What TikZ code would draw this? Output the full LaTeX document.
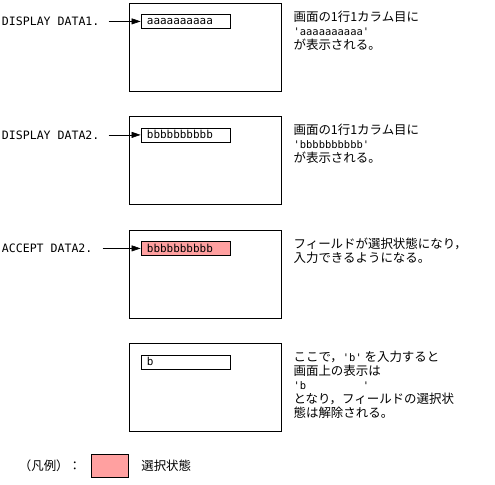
\documentclass[tikz,border=0pt]{standalone}
\usepackage{fontspec}
\setmainfont{Noto Sans CJK JP}
\newfontfamily\monofont{DejaVu Sans Mono}
\usetikzlibrary{positioning, arrows.meta}
\definecolor{selpink}{RGB}{255,160,160}
\newcommand\qtext[1]{{\monofont\fontsize{10.5}{10}\selectfont #1}}

\begin{document}
\begin{tikzpicture}[
    x=1bp, y=-1bp,
    node distance=8bp and 12bp, % vertical and horizontal spacing
    every node/.style={inner sep=0pt, font=\fontsize{12.5}{14}\selectfont},
    scr/.style={draw, line width=0.8bp, minimum width=152bp, minimum height=88bp},
    fld/.style={draw, line width=0.6bp, minimum height=14bp, inner xsep=6bp,
        text width=77bp, align=left, font=\monofont\fontsize{11}{11}\selectfont},
    lbl/.style={font=\monofont\fontsize{11.6}{12}\selectfont},
    note/.style={align=left},
    arr/.style={-{Triangle[length=9bp,width=6bp]}, line width=0.6bp, shorten <=9bp}
]
    \useasboundingbox (0,0) rectangle (495,485);

    % Place the screens
    \node[scr] (scr1) at (205,47) {};
    \node[scr] (scr2) at (205,160.5) {};
    \node[scr] (scr3) at (205,274) {};
    \node[scr] (scr4) at (205,387.5) {};

    % Fields on each screen
    \node[fld, below right=11.5bp and 12bp of scr1.north west] (fld1) {aaaaaaaaaa};
    \node[fld, below right=11.5bp and 12bp of scr2.north west] (fld2) {bbbbbbbbbb};
    \node[fld, fill=selpink, below right=11.5bp and 12bp of scr3.north west] (fld3) {bbbbbbbbbb};
    \node[fld, below right=11.5bp and 12bp of scr4.north west] (fld4) {b};

    % Labels on the left
    \node[lbl, left=41bp of fld1] (lbl1) {DISPLAY DATA1.};
    \node[lbl, left=41bp of fld2] (lbl2) {DISPLAY DATA2.};
    \node[lbl, left=48bp of fld3] (lbl3) {ACCEPT DATA2.};

    % Notes on the right
    \node[note, below right=of scr1.north east] (note1)
        {画面の1行1カラム目に\\\qtext{'aaaaaaaaaa'}\\が表示される。};
    \node[note, below right=of scr2.north east] (note2)
        {画面の1行1カラム目に\\\qtext{'bbbbbbbbbb'}\\が表示される。};
    \node[note, below right=of scr3.north east] (note3)
        {フィールドが選択状態になり，\\入力できるようになる。};
    \node[note, below right=of scr4.north east] (note4)
        {ここで，\qtext{'b'} を入力すると\\画面上の表示は\\\qtext{'b\phantom{bbbbbbbbb}'}\\となり，フィールドの選択状\\態は解除される。};

    % Legend
    \node (legend) at (50,466) {（凡例）：};
    \node[draw, line width=0.8bp, fill=selpink, minimum width=37bp, minimum height=23bp,
        right=10bp of legend] (key) {};
    \node[right=12bp of key] (keytxt) {選択状態};

    % Draw the arrows
    \draw[arr] (lbl1) -- (fld1);
    \draw[arr] (lbl2) -- (fld2);
    \draw[arr, shorten <=10bp] (lbl3) -- (fld3);
\end{tikzpicture}
\end{document}
